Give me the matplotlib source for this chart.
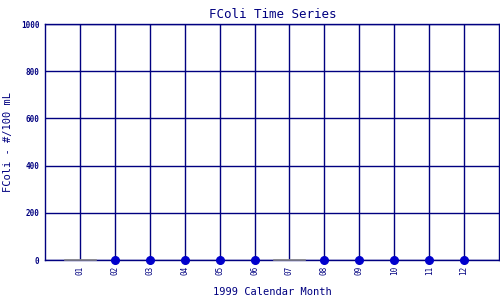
import matplotlib
matplotlib.use("Agg")
import matplotlib.pyplot as plt

months = [1, 2, 3, 4, 5, 6, 7, 8, 9, 10, 11, 12]
month_labels = ["01", "02", "03", "04", "05", "06", "07", "08", "09", "10", "11", "12"]
# FColi per month (None = no sample)
fcoli = [None, 0, 0, 0, 0, 0, None, 0, 0, 0, 0, 0]
y_ticks = [0, 200, 400, 600, 800, 1000]

navy = "#000080"
blue = "#0000cc"
plt.rcParams["font.family"] = ["DejaVu Sans Mono"]

fig = plt.figure(figsize=(5, 3), dpi=100)
ax = fig.add_axes([0.09, 0.133, 0.908, 0.787])

ax.set_xlim(0, 13)
ax.set_ylim(0, 1000)
ax.set_xticks(months)
ax.set_xticklabels(month_labels, rotation=90, fontsize=5.5, color=navy)
ax.set_yticks(y_ticks)
ax.set_yticklabels([str(v) for v in y_ticks], fontsize=5.5, color=navy, fontweight="bold")
ax.tick_params(length=0, pad=4)
ax.grid(True, color=navy, linewidth=1)
ax.set_axisbelow(True)
for s in ax.spines.values():
    s.set_color(navy)
    s.set_linewidth(1)

# months without data shown as grey stubs on the baseline
for m, v in zip(months, fcoli):
    if v is None:
        ax.plot([m - 0.43, m + 0.45], [0, 0], color="#888888", linewidth=1.2,
                zorder=3, clip_on=False)

xs = [m for m, v in zip(months, fcoli) if v is not None]
ys = [v for v in fcoli if v is not None]
ax.plot(xs, ys, "o", color=blue, markersize=5.5, clip_on=False, zorder=4)

fig.text(0.545, 0.975, "FColi Time Series", ha="center", va="top",
         fontsize=9, color=navy)
fig.text(0.545, 0.01, "1999 Calendar Month", ha="center", va="bottom",
         fontsize=7.5, color=navy)
fig.text(0.006, 0.527, "FColi - #/100 mL", ha="left", va="center",
         rotation=90, fontsize=7.5, color=navy)

fig.savefig("out.png", dpi=100)
